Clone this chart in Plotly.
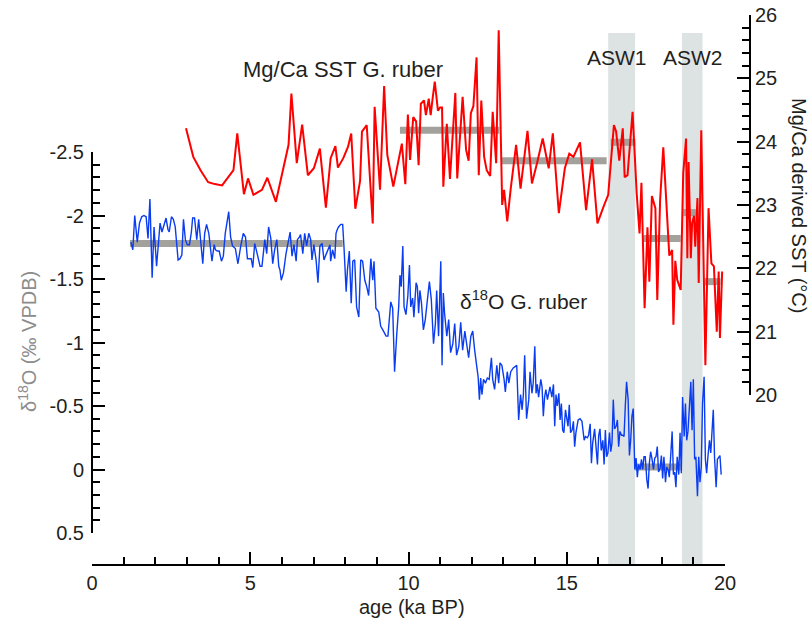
import plotly.graph_objects as go

# ---------------- data ----------------
age_d18o = [1.23,1.29,1.35,1.43,1.50,1.57,1.64,1.71,1.77,1.83,1.90,1.96,2.04,2.11,2.15,2.21,2.28,2.34,2.40,2.44,
2.51,2.57,2.63,2.72,2.78,2.84,2.89,2.95,3.01,3.08,3.14,3.18,3.24,3.31,3.37,3.43,3.50,3.56,3.62,3.69,
3.79,3.86,3.90,3.96,4.02,4.09,4.15,4.21,4.28,4.32,4.38,4.44,4.53,4.61,4.70,4.78,4.85,4.91,4.97,5.03,
5.08,5.14,5.20,5.27,5.31,5.37,5.46,5.52,5.58,5.65,5.71,5.77,5.84,5.90,5.94,5.98,6.05,6.13,6.19,6.26,
6.32,6.38,6.45,6.49,6.55,6.59,6.66,6.72,6.78,6.85,6.91,6.95,7.01,7.08,7.14,7.20,7.27,7.33,7.39,7.46,
7.52,7.54,7.60,7.67,7.71,7.75,7.79,7.86,7.92,7.96,8.03,8.07,8.13,8.19,8.24,8.30,8.36,8.43,8.49,8.55,
8.62,8.68,8.74,8.81,8.87,8.91,8.97,9.06,9.12,9.21,9.29,9.35,9.44,9.50,9.56,9.63,9.69,9.73,9.77,9.82,
9.86,9.92,9.98,10.03,10.07,10.13,10.17,10.24,10.28,10.32,10.36,10.41,10.47,10.53,10.60,10.66,10.72,10.79,10.85,10.89,
10.95,11.02,11.06,11.10,11.14,11.21,11.27,11.33,11.40,11.46,11.52,11.59,11.65,11.71,11.78,11.84,11.90,11.97,12.03,12.09,
12.15,12.20,12.24,12.28,12.32,12.37,12.43,12.49,12.55,12.62,12.66,12.72,12.79,12.85,12.89,12.95,13.02,13.06,13.12,13.17,
13.23,13.31,13.42,13.48,13.54,13.59,13.63,13.67,13.73,13.80,13.84,13.90,13.94,13.99,14.03,14.07,14.11,14.18,14.22,14.26,
14.30,14.34,14.39,14.43,14.47,14.53,14.58,14.62,14.66,14.70,14.75,14.79,14.83,14.87,14.91,14.96,15.00,15.04,15.08,15.12,
15.17,15.21,15.25,15.29,15.36,15.42,15.48,15.55,15.59,15.65,15.69,15.74,15.78,15.82,15.88,15.92,15.97,16.01,16.05,16.09,
16.14,16.18,16.22,16.26,16.30,16.35,16.39,16.43,16.47,16.51,16.56,16.60,16.64,16.68,16.73,16.77,16.81,16.85,16.89,16.94,
16.98,17.02,17.06,17.10,17.15,17.19,17.23,17.27,17.32,17.36,17.40,17.44,17.48,17.53,17.57,17.61,17.65,17.69,17.74,17.78,
17.82,17.86,17.90,17.95,17.99,18.03,18.07,18.12,18.16,18.20,18.24,18.28,18.33,18.37,18.41,18.45,18.49,18.54,18.58,18.62,
18.66,18.71,18.75,18.79,18.83,18.87,18.92,18.96,19.00,19.04,19.08,19.13,19.17,19.21,19.25,19.29,19.34,19.38,19.42,19.46,
19.51,19.55,19.59,19.63,19.67,19.72,19.76,19.80,19.84,19.88]

d18o = [-1.79,-1.73,-2.00,-1.79,-1.94,-1.99,-2.00,-1.99,-1.82,-2.13,-1.51,-1.91,-1.60,-1.82,-1.94,-1.87,-1.94,-1.98,-1.89,-1.87,
-1.99,-1.97,-1.91,-1.65,-1.66,-1.69,-1.97,-1.81,-1.77,-1.77,-1.87,-1.98,-1.98,-1.81,-1.97,-1.83,-1.62,-1.86,-1.93,-1.86,
-1.64,-1.77,-1.73,-1.72,-1.72,-1.64,-1.68,-1.86,-1.97,-2.03,-1.83,-1.76,-1.74,-1.62,-1.76,-1.86,-1.83,-1.66,-1.66,-1.66,
-1.59,-1.78,-1.72,-1.64,-1.60,-1.60,-1.81,-1.70,-1.91,-1.82,-1.62,-1.73,-1.81,-1.60,-1.57,-1.49,-1.55,-1.70,-1.79,-1.87,
-1.68,-1.77,-1.64,-1.81,-1.83,-1.85,-1.70,-1.86,-1.76,-1.86,-1.81,-1.65,-1.77,-1.65,-1.47,-1.76,-1.78,-1.65,-1.69,-1.73,
-1.77,-1.64,-1.73,-1.66,-1.86,-1.89,-1.91,-1.93,-1.93,-1.76,-1.40,-1.57,-1.72,-1.31,-1.64,-1.65,-1.28,-1.20,-1.65,-1.64,
-1.49,-1.44,-1.37,-1.66,-1.49,-1.64,-1.27,-1.24,-1.13,-1.09,-1.05,-1.05,-1.32,-1.27,-0.77,-1.07,-1.28,-1.53,-1.44,-1.76,
-1.28,-1.22,-1.37,-1.61,-1.28,-1.35,-1.20,-1.47,-1.44,-1.23,-1.41,-1.31,-1.10,-1.18,-1.36,-1.48,-1.34,-0.99,-1.15,-1.41,
-1.05,-1.64,-0.82,-1.39,-1.23,-1.05,-1.18,-0.92,-0.99,-1.15,-0.90,-0.97,-1.16,-0.94,-1.09,-0.98,-0.88,-1.05,-1.09,-0.94,
-0.80,-0.73,-0.55,-0.72,-0.59,-0.71,-0.68,-0.72,-0.71,-0.88,-0.71,-0.63,-0.82,-0.68,-0.84,-0.82,-0.71,-0.61,-0.77,-0.68,
-0.77,-0.80,-0.82,-0.39,-0.59,-0.47,-0.59,-0.90,-0.40,-0.55,-0.77,-0.60,-0.68,-0.97,-0.60,-0.67,-0.57,-0.71,-0.65,-0.42,
-0.57,-0.63,-0.55,-0.59,-0.65,-0.57,-0.67,-0.34,-0.59,-0.50,-0.60,-0.39,-0.52,-0.31,-0.29,-0.47,-0.42,-0.34,-0.51,-0.29,
-0.31,-0.38,-0.18,-0.29,-0.39,-0.40,-0.38,-0.23,-0.26,-0.25,-0.27,-0.36,-0.05,-0.21,-0.32,-0.21,-0.04,-0.27,-0.32,-0.15,
-0.23,-0.04,-0.31,-0.10,-0.13,-0.29,-0.14,-0.21,-0.55,-0.32,-0.34,-0.39,-0.18,-0.30,-0.27,-0.27,-0.26,-0.50,-0.69,-0.55,
-0.11,-0.23,-0.42,-0.48,0.00,-0.09,0.06,-0.04,0.00,-0.08,0.00,-0.10,-0.10,0.08,0.15,-0.05,-0.14,-0.09,0.00,-0.09,
-0.10,-0.18,0.02,-0.01,-0.11,0.07,-0.10,0.10,-0.02,0.00,0.06,-0.09,-0.30,0.04,0.02,0.14,-0.10,0.04,-0.29,0.03,
-0.57,-0.26,-0.52,-0.23,-0.30,-0.47,-0.69,-0.31,-0.71,-0.08,-0.10,0.21,-0.10,0.10,-0.02,-0.52,-0.73,-0.08,0.03,-0.10,
-0.23,-0.13,-0.29,-0.47,-0.09,0.14,-0.08,-0.10,-0.11,0.04]

age_sst = [2.97,3.20,3.43,3.67,3.88,4.11,4.47,4.59,4.80,4.93,5.10,5.37,5.54,5.81,6.21,6.30,6.47,6.64,6.82,7.01,
7.20,7.39,7.54,7.69,7.77,7.94,8.09,8.19,8.32,8.47,8.53,8.68,8.87,8.93,9.10,9.23,9.33,9.52,9.79,9.90,
9.98,10.05,10.15,10.24,10.32,10.39,10.49,10.55,10.64,10.70,10.76,10.83,10.93,11.00,11.06,11.10,11.21,11.31,11.48,11.54,
11.71,11.82,11.90,11.97,12.05,12.15,12.22,12.30,12.39,12.47,12.58,12.66,12.77,12.85,12.96,13.02,13.12,13.23,13.40,13.54,
13.76,13.90,14.07,14.24,14.43,14.56,14.75,14.94,15.08,15.21,15.42,15.61,15.80,15.97,16.16,16.31,16.49,16.56,16.66,16.77,
16.83,16.92,17.08,17.21,17.30,17.36,17.46,17.55,17.61,17.69,17.80,17.86,17.95,18.05,18.24,18.33,18.37,18.43,18.49,18.60,
18.68,18.77,18.81,18.85,18.92,18.96,19.02,19.06,19.13,19.17,19.25,19.38,19.48,19.57,19.65,19.74,19.80,19.84,19.91]

sst = [24.21,23.76,23.55,23.36,23.33,23.31,23.55,24.13,23.17,23.42,23.16,23.24,23.43,23.05,23.95,24.76,23.66,24.27,23.47,23.58,
23.89,22.96,23.74,23.93,23.59,23.74,23.92,24.13,22.94,23.38,24.16,24.26,22.71,24.55,23.24,24.88,23.79,23.29,23.97,23.33,
24.43,23.71,24.39,24.32,23.63,24.60,24.65,24.42,24.68,24.42,24.67,24.95,24.49,24.54,24.54,23.29,24.28,23.41,24.77,23.42,
24.71,23.87,23.70,24.45,24.56,25.33,23.47,24.65,23.76,23.55,23.46,24.47,23.66,25.76,23.00,23.24,22.74,23.26,23.95,23.26,
24.17,23.34,23.68,24.05,23.58,24.13,22.87,23.58,23.81,23.76,23.99,22.92,23.72,22.71,22.97,23.16,24.26,24.16,23.70,24.21,
23.44,23.47,24.47,23.18,22.55,23.35,21.37,22.65,21.79,23.14,22.95,21.50,23.08,23.91,22.20,22.29,21.11,22.12,21.82,21.66,
23.50,24.05,22.16,23.68,22.16,22.71,22.83,22.34,23.11,21.77,24.18,20.47,22.95,22.08,22.03,21.00,21.95,20.90,21.95]

# mean levels (grey bars)
d18o_mean_start = [1.20, 17.15]
d18o_mean_end = [7.92, 18.60]
d18o_mean_val = [-1.78, -0.02]

sst_mean_start = [9.73, 12.94, 16.39, 17.42, 18.68, 19.37]
sst_mean_end = [12.87, 16.26, 17.17, 18.60, 19.08, 19.86]
sst_mean_val = [24.18, 23.70, 23.99, 22.47, 22.88, 21.79]

# ASW events (ka BP)
band_names = ["ASW1", "ASW2"]
band_start = [16.31, 18.64]
band_end = [17.16, 19.29]

# axis ticks
x_ticks = [0, 5, 10, 15, 20]
x_ticklabels = ["0", "5", "10", "15", "20"]
d18o_ticks = [-2.5, -2, -1.5, -1, -0.5, 0, 0.5]
d18o_ticklabels = ["-2.5", "-2", "-1.5", "-1", "-0.5", "0", "0.5"]
sst_ticks = [20, 21, 22, 23, 24, 25, 26]
sst_ticklabels = ["20", "21", "22", "23", "24", "25", "26"]

# ---------------- layout helpers ----------------
W, H = 810, 622
def fx(p):
    return p / W
def fy(p):
    return 1 - p / H

FONT = "Arial, 'Liberation Sans', sans-serif"
TXT = "#231f20"
GREY_BAR = "#a3a19b"

fig = go.Figure()

for s, e, v in zip(d18o_mean_start, d18o_mean_end, d18o_mean_val):
    fig.add_trace(go.Scatter(x=[s, e], y=[v, v], mode="lines", xaxis="x", yaxis="y",
                             line=dict(color=GREY_BAR, width=7), hoverinfo="skip", showlegend=False))
for s, e, v in zip(sst_mean_start, sst_mean_end, sst_mean_val):
    fig.add_trace(go.Scatter(x=[s, e], y=[v, v], mode="lines", xaxis="x", yaxis="y2",
                             line=dict(color=GREY_BAR, width=7), hoverinfo="skip", showlegend=False))

fig.add_trace(go.Scatter(x=age_sst, y=sst, mode="lines", xaxis="x", yaxis="y2",
                         line=dict(color="#ff0000", width=2), showlegend=False))
fig.add_trace(go.Scatter(x=age_d18o, y=d18o, mode="lines", xaxis="x", yaxis="y",
                         line=dict(color="#0a3cf0", width=1.4), showlegend=False))

shapes = []
for s, e in zip(band_start, band_end):
    shapes.append(dict(type="rect", xref="x", yref="paper", x0=s, x1=e,
                       y0=fy(565), y1=fy(33), fillcolor="#dde2e3",
                       line=dict(width=0), layer="below"))

tickfont = dict(family=FONT, size=20, color=TXT)

fig.update_layout(
    width=W, height=H,
    margin=dict(l=0, r=0, t=0, b=0, pad=0, autoexpand=False),
    paper_bgcolor="white", plot_bgcolor="rgba(0,0,0,0)",
    font=dict(family=FONT, color=TXT),
    shapes=shapes,
    xaxis=dict(domain=[fx(92), fx(725)], range=[0, 20], anchor="free", position=fy(565),
               automargin=False,
               showgrid=False, zeroline=False, showline=True, linecolor="black", linewidth=2,
               ticks="inside", ticklen=12, tickwidth=1.5, tickcolor="black",
               tickmode="array", tickvals=x_ticks, ticktext=x_ticklabels, tickfont=tickfont,
               minor=dict(ticks="inside", ticklen=7, tickwidth=1.5, tickcolor="black",
                          tickmode="linear", tick0=0, dtick=1, showgrid=False)),
    yaxis=dict(domain=[fy(533), fy(152)], range=[0.5, -2.5], anchor="free", position=fx(92),
               automargin=False, ticklabelstandoff=3,
               showgrid=False, zeroline=False, showline=True, linecolor="black", linewidth=2,
               ticks="inside", ticklen=12, tickwidth=1.5, tickcolor="black",
               tickmode="array", tickvals=d18o_ticks, ticktext=d18o_ticklabels, tickfont=tickfont,
               minor=dict(ticks="inside", ticklen=7, tickwidth=1.5, tickcolor="black",
                          tickmode="linear", tick0=0, dtick=0.1, showgrid=False)),
    yaxis2=dict(domain=[fy(395), fy(15)], range=[20, 26], anchor="free", position=fx(750), side="right",
                automargin=False, ticklabeloverflow="allow",
                showgrid=False, zeroline=False, showline=True, linecolor="black", linewidth=2,
                ticks="inside", ticklen=12, tickwidth=1.5, tickcolor="black",
                tickmode="array", tickvals=sst_ticks, ticktext=sst_ticklabels, tickfont=tickfont,
                minor=dict(ticks="inside", ticklen=7, tickwidth=1.5, tickcolor="black",
                           tickmode="linear", tick0=0, dtick=0.2, showgrid=False)),
)

ann = [
    dict(text="Mg/Ca SST G. ruber", x=fx(343), y=fy(70), size=22, color=TXT, angle=0),
    dict(text="δ<sup>18</sup>O G. ruber", x=fx(523), y=fy(300), size=21, color=TXT, angle=0),
    dict(text=band_names[0], x=fx(617), y=fy(58), size=21, color=TXT, angle=0),
    dict(text=band_names[1], x=fx(693), y=fy(58), size=21, color=TXT, angle=0),
    dict(text="age (ka BP)", x=fx(412), y=fy(607), size=20, color=TXT, angle=0),
    dict(text="δ<sup>18</sup>O (‰ VPDB)", x=fx(28), y=fy(342), size=20, color="#8c8c8c", angle=-90),
    dict(text="Mg/Ca derived SST (°C)", x=fx(799), y=fy(205), size=20, color=TXT, angle=90),
]
for a in ann:
    fig.add_annotation(text=a["text"], x=a["x"], y=a["y"], xref="paper", yref="paper",
                       xanchor="center", yanchor="middle", showarrow=False, textangle=a["angle"],
                       font=dict(family=FONT, size=a["size"], color=a["color"]))

# remove the browser's default body margin so the figure fills the window exactly
fig.write_html("out.html",
               config={"displayModeBar": False},
               post_script="document.body.style.margin='0';document.body.style.overflow='hidden';")
